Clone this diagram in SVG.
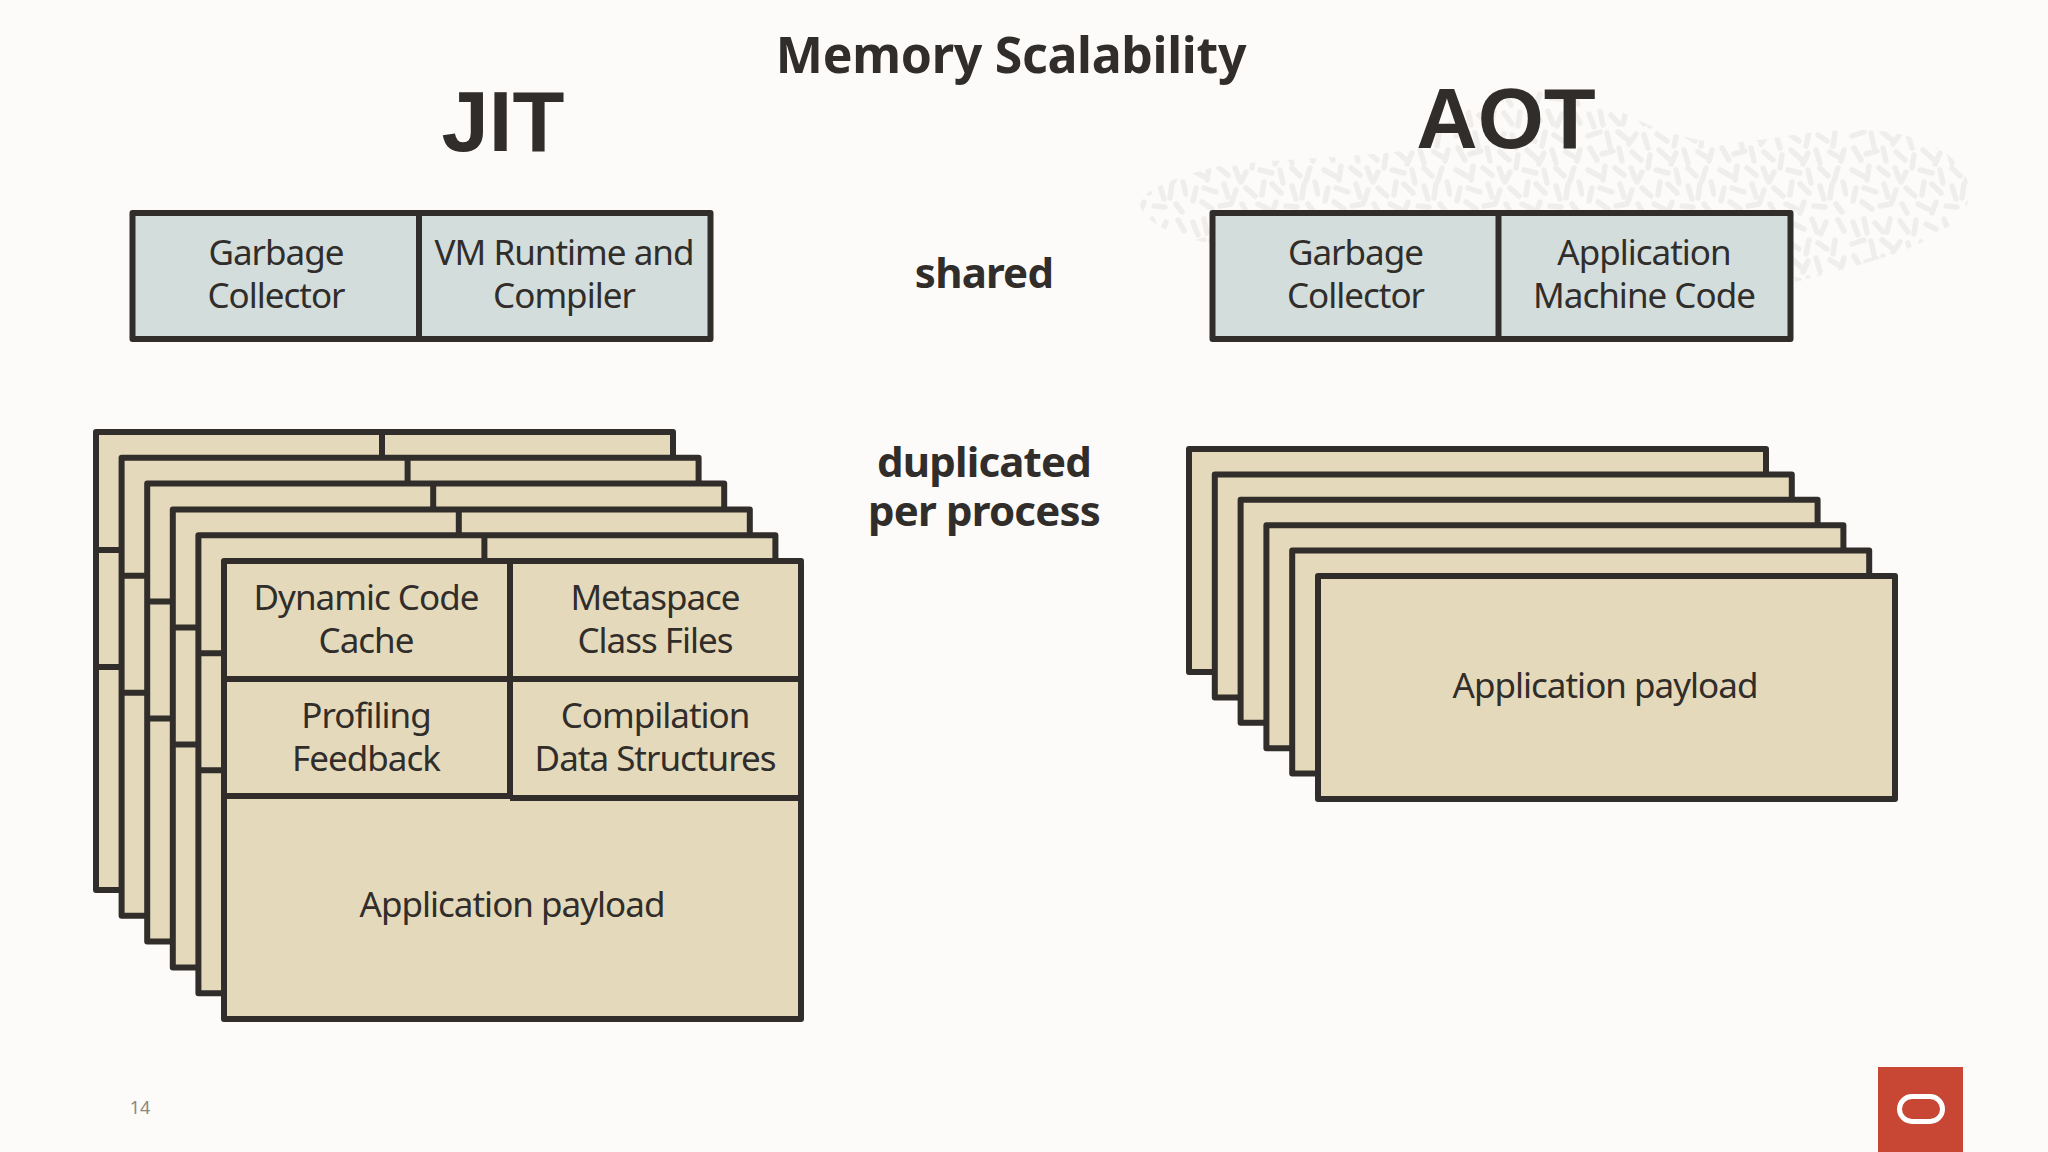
<svg xmlns="http://www.w3.org/2000/svg" width="2048" height="1152" viewBox="0 0 2048 1152">
<style>
text{font-family:"Noto Sans","Open Sans","Liberation Sans",sans-serif;fill:#312d2a;text-anchor:middle}
.b{font-size:35px;letter-spacing:-1px}
.h{font-weight:700;font-size:42px;letter-spacing:-.8px}
.big{font-family:"Liberation Sans",sans-serif;font-size:85px;font-weight:700}
.box{stroke:#312d2a;stroke-width:6;stroke-linejoin:round}
.tan{fill:#e4dabb}
.blue{fill:#d2dddc}
.ln{stroke:#312d2a;stroke-width:6;fill:none}
</style>
<defs>
<pattern id="fp" width="132" height="108" patternUnits="userSpaceOnUse">
<path stroke="#efeeec" stroke-width="5.500" stroke-linecap="round" fill="none" d="M5 6l5 13M16 3l3 14M27 7l8 9M42 3l-3 13M52 5l8 11M68 4l-2 14M78 8l10 5M96 3l5 13M110 6l-5 12M122 4l6 11M4 28l12-4M23 25l3 14M34 24l10 8M52 26l-7 10M60 27l4 13M73 26l10 7M93 24l-3 14M102 27l9 6M119 24l-2 14M6 40l7 12M18 46l11-3M35 40l3 13M48 44l9 8M66 47l-2 13M75 42l10 9M92 45l-5 11M100 42l4 13M114 44l10 6M128 42l-3 11M4 62l11 6M21 58l-2 14M31 60l9 7M47 60l5 13M58 64l-5 10M72 62l12 3M92 62l3 13M104 60l8 8M122 60l-4 13M8 80l-3 13M16 80l12 4M36 76l4 13M48 82l-4 12M58 80l9 8M76 74l-2 13M84 76l9 9M104 78l4 13M116 76l-2 14M127 74l3 12M14 94l10 7M32 98l11-2M54 96l5 9M70 96l10 5M88 94l-4 11M98 98l11 1M120 96l6 8"/>
</pattern>
<g id="jit-card">
<rect class="box tan" x="224" y="561" width="577" height="458"/>
<path class="ln" d="M510 561V798M224 679H801M224 796H510M510 798H801"/>
</g>
<rect id="aot-card" class="box tan" x="1318" y="576" width="577" height="223"/>
</defs>
<rect width="2048" height="1152" fill="#fcfbf9"/>
<path id="blob" fill="url(#fp)" d="M1139 203C1145 188 1180 176 1215 167C1270 158 1370 158 1421 148C1440 125 1470 100 1536 90C1570 88 1590 95 1605 103C1640 122 1660 132 1700 140C1740 148 1780 135 1818 132C1860 128 1890 128 1925 142C1955 155 1968 172 1970 193C1968 212 1955 224 1930 238C1900 255 1860 265 1795 282L1790 220L1209 243C1180 238 1145 225 1139 203Z"/>
<text x="1011" y="73" style="font-size:50px;font-weight:700;letter-spacing:-.3px">Memory Scalability</text>
<text class="big" x="503" y="151">JIT</text>
<text class="big" x="1506" y="148">AOT</text>
<text class="h" x="984" y="288">shared</text>
<text class="h" x="984" y="477">duplicated</text>
<text class="h" x="984" y="526">per process</text>
<g id="jit-shared">
<rect class="box blue" x="132.500" y="213" width="578" height="126"/>
<path class="ln" d="M419 213V339"/>
<text class="b" x="276" y="265">Garbage</text><text class="b" x="276" y="308">Collector</text>
<text class="b" x="564" y="265">VM Runtime and</text><text class="b" x="564" y="308">Compiler</text>
</g>
<g id="aot-shared">
<rect class="box blue" x="1212.500" y="213" width="578" height="126"/>
<path class="ln" d="M1498.500 213V339"/>
<text class="b" x="1355.500" y="265">Garbage</text><text class="b" x="1355.500" y="308">Collector</text>
<text class="b" x="1644" y="265">Application</text><text class="b" x="1644" y="308">Machine Code</text>
</g>
<g id="jit-stack">
<use href="#jit-card" x="-128" y="-129"/>
<use href="#jit-card" x="-102.400" y="-103.200"/>
<use href="#jit-card" x="-76.800" y="-77.400"/>
<use href="#jit-card" x="-51.200" y="-51.600"/>
<use href="#jit-card" x="-25.600" y="-25.800"/>
<use href="#jit-card"/>
<text class="b" x="366" y="610">Dynamic Code</text><text class="b" x="366" y="653">Cache</text>
<text class="b" x="366" y="728">Profiling</text><text class="b" x="366" y="771">Feedback</text>
<text class="b" x="655" y="610">Metaspace</text><text class="b" x="655" y="653">Class Files</text>
<text class="b" x="655" y="728">Compilation</text><text class="b" x="655" y="771">Data Structures</text>
<text class="b" x="512" y="917">Application payload</text>
</g>
<g id="aot-stack">
<use href="#aot-card" x="-129" y="-127"/>
<use href="#aot-card" x="-103.200" y="-101.600"/>
<use href="#aot-card" x="-77.400" y="-76.200"/>
<use href="#aot-card" x="-51.600" y="-50.800"/>
<use href="#aot-card" x="-25.800" y="-25.400"/>
<use href="#aot-card"/>
<text class="b" x="1605" y="698">Application payload</text>
</g>
<text x="140" y="1114" style="font-size:18px;fill:#8c8880">14</text>
<g id="logo">
<rect x="1878" y="1067" width="85" height="85" fill="#c74634"/>
<rect x="1899.500" y="1096.500" width="43" height="25" rx="12.500" fill="none" stroke="#fff" stroke-width="5"/>
</g>
</svg>
